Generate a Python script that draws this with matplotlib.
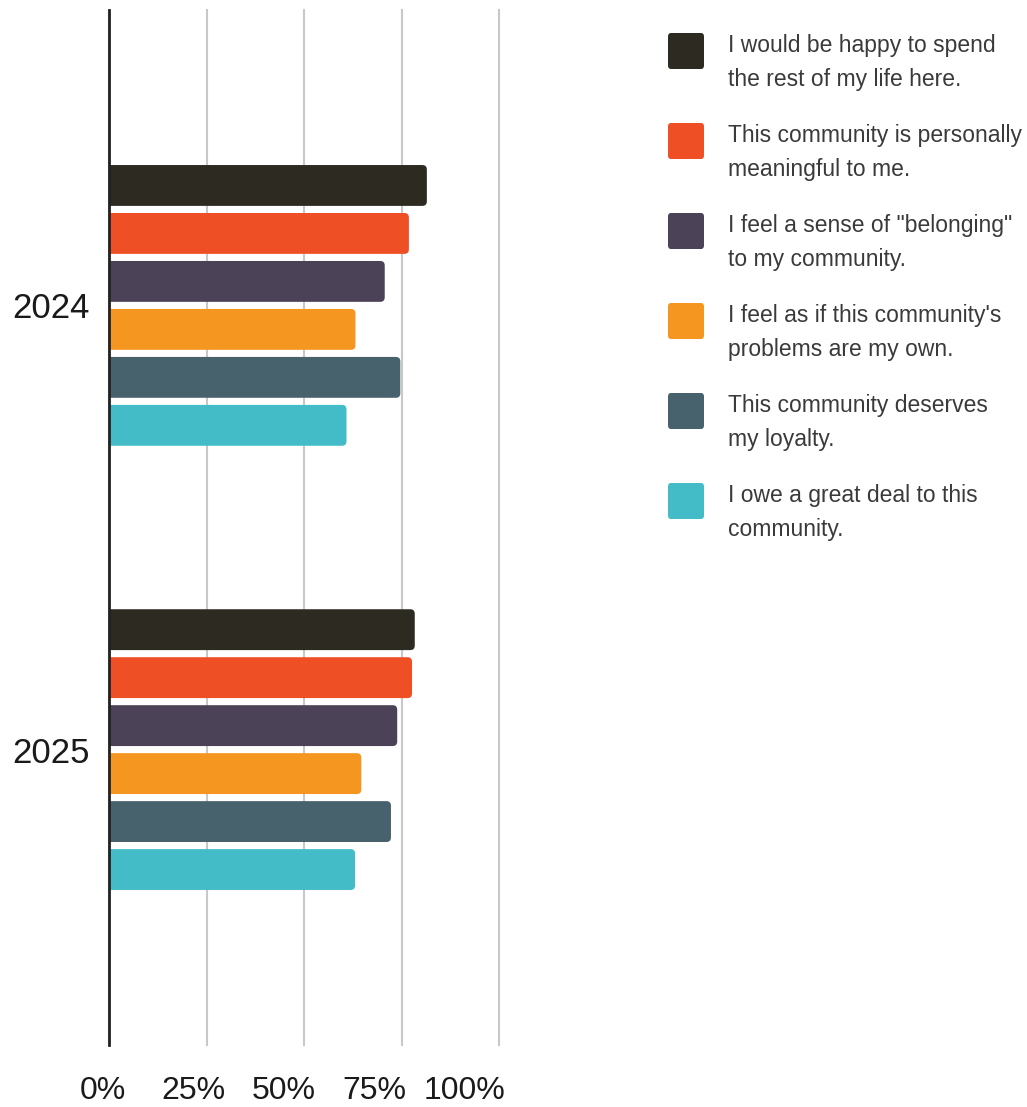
import matplotlib.pyplot as plt
import matplotlib.transforms as mtransforms
from matplotlib.patches import FancyBboxPatch
import numpy as np

plt.rcParams['font.family'] = ['Liberation Sans', 'DejaVu Sans']

years = ["2024", "2025"]
statements = [
    "I would be happy to spend\nthe rest of my life here.",
    "This community is personally\nmeaningful to me.",
    "I feel a sense of \"belonging\"\nto my community.",
    "I feel as if this community's\nproblems are my own.",
    "This community deserves\nmy loyalty.",
    "I owe a great deal to this\ncommunity.",
]
# percent agreeing, one list per statement: [2024, 2025]
happy_here = [81.5, 78.4]
meaningful = [76.9, 77.7]
belonging = [70.7, 73.9]
problems_own = [63.2, 64.7]
loyalty = [74.7, 72.3]
owe = [60.9, 63.1]
series = [happy_here, meaningful, belonging, problems_own, loyalty, owe]

colors = ["#2d2a22", "#ef4f24", "#4b4258", "#f4961f", "#48626d", "#44bcc7"]

fig = plt.figure(figsize=(10.27, 11.07), dpi=100)
ax = fig.add_axes([109 / 1027, 62 / 1107, 390 / 1027, 1035 / 1107])

pitch = 0.108
height = 0.092
y = np.arange(len(years))
offsets = (np.arange(len(series)) - (len(series) - 1) / 2) * pitch

# px per data unit, used to keep the rounded ends circular
xpx = 390 / 100
ypx = 1035 / 2.33
r = 4.5 / xpx
for vals, off, col in zip(series, offsets, colors):
    bars = ax.barh(y + off, vals, height=height, color=col)
    for b in bars:
        x0, y0 = b.get_x(), b.get_y()
        w, h = b.get_width(), b.get_height()
        b.set_visible(False)
        ax.add_patch(FancyBboxPatch((x0 - 3, y0), w + 3, h,
                                    boxstyle=f"round,pad=0,rounding_size={r}",
                                    mutation_aspect=xpx / ypx,
                                    facecolor=col, edgecolor="none",
                                    zorder=3))

ax.set_xlim(0, 100)
ax.set_ylim(1.665, -0.665)
ax.set_yticks(y)
ax.set_yticklabels(years, fontsize=25, color="#1a1a1a")
ax.set_xticks([0, 25, 50, 75, 100])
ax.set_xticklabels(["0%", "25%", "50%", "75%", "100%"], fontsize=23,
                   color="#1a1a1a")
ax.tick_params(axis="both", length=0)
ax.tick_params(axis="y", pad=14)
ax.tick_params(axis="x", pad=22)
for i, lab in enumerate(ax.get_xticklabels()):
    shift = mtransforms.ScaledTranslation(-(6 + 7 * i) / 100, 0,
                                          fig.dpi_scale_trans)
    lab.set_transform(lab.get_transform() + shift)

ax.grid(axis="x", color="#c8c8c8", linewidth=1.5, zorder=0)
for gl in ax.get_xgridlines():
    gl.set_clip_on(False)
ax.set_axisbelow(True)
for s in ["top", "right", "bottom"]:
    ax.spines[s].set_visible(False)
ax.spines["left"].set_color("#222222")
ax.spines["left"].set_linewidth(2)
ax.spines["left"].set_zorder(4)

# legend drawn by hand on the right
for i, (label, col) in enumerate(zip(statements, colors)):
    top = 33 + 90 * i
    fig.patches.append(FancyBboxPatch(
        (668 / 1027, 1 - (top + 36) / 1107), 36 / 1027, 36 / 1107,
        boxstyle="round,pad=0,rounding_size=0.003",
        transform=fig.transFigure, facecolor=col, edgecolor="none"))
    fig.text(728 / 1027, 1 - (top + 1) / 1107, label, fontsize=16.5,
             color="#3a3a3a", va="top", ha="left", linespacing=1.6)

fig.savefig("out.png", dpi=100)
